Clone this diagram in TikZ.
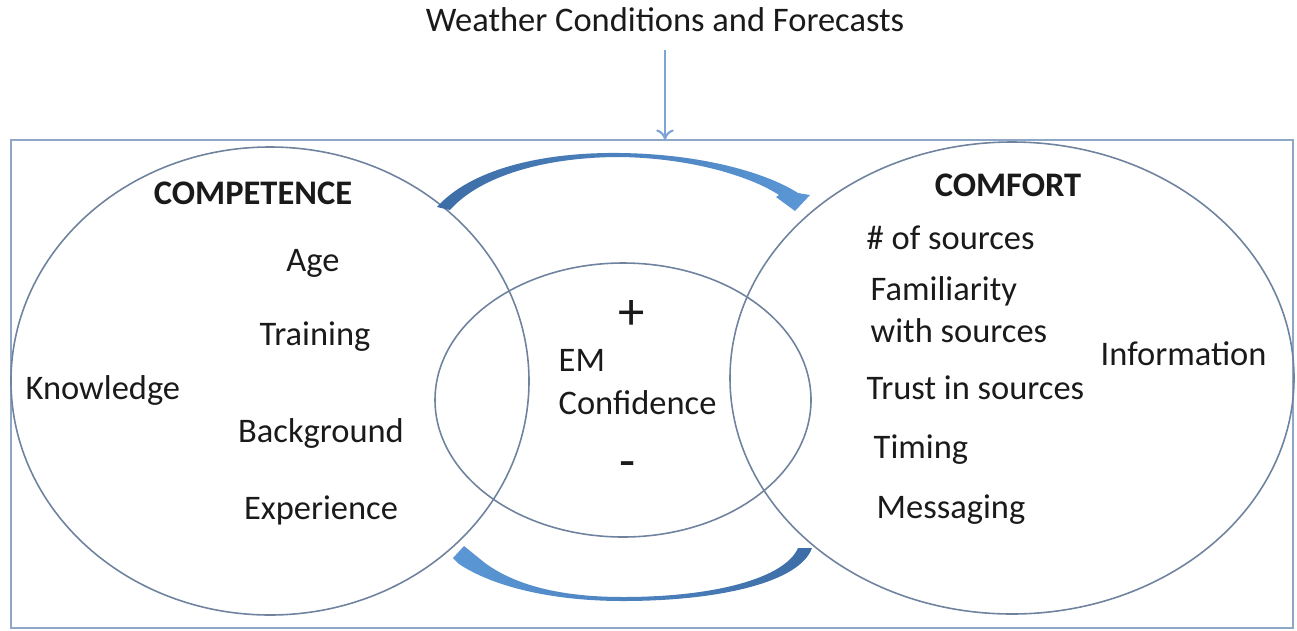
\documentclass[tikz,border=0pt]{standalone}
\usepackage{fontspec}
\setmainfont{Carlito}
\usepackage{tikz}
\usetikzlibrary{arrows.meta}
\tikzset{
  font={\fontsize{9.8pt}{12}\selectfont}}

\definecolor{framecol}{HTML}{8EA7C7}
\definecolor{ringcol}{HTML}{6F829E}
\definecolor{inflow}{HTML}{7CA4D6}
\definecolor{loopdark}{HTML}{3D6DA6}
\definecolor{looplight}{HTML}{5B97D6}
\definecolor{inkcol}{HTML}{1A1A1A}

\begin{document}
\begin{tikzpicture}[x=0.01cm,y=-0.01cm,
  ring/.style={draw=ringcol, line width=0.45pt},
  lbl/.style={inner sep=0pt, text=inkcol},
  lleft/.style={lbl, anchor=west, align=left},
  sign/.style={lbl, font={\fontsize{15pt}{15}\selectfont}},
  head/.style={lbl, font={\fontsize{9.8pt}{12}\selectfont\bfseries}}]
\useasboundingbox (0,0) rectangle (1297,630);
\draw [framecol, line width=0.6pt] (11,140) rectangle (1293,628);
\coordinate (frametop) at (665,140);
\node [lbl] (weather) at (665,20) {Weather Conditions and Forecasts};
\draw [inflow, line width=0.6pt, shorten <=4.8pt, -{To[length=3pt,width=5pt]}] (weather) -- (frametop);
% the three rings
\draw [ring] (270,381) ellipse [x radius=259, y radius=234];
\draw [ring] (1012,378) ellipse [x radius=282, y radius=236];
\draw [ring] (623,400) ellipse [x radius=188, y radius=137];
% competence side
\node [head] (competence) at (253,193) {COMPETENCE};
\node [lbl] (age) at (313,263) {Age};
\node [lbl] (training) at (315,337) {Training};
\node [lleft] (knowledge) at (25,390) {Knowledge};
\node [lbl] (background) at (321,433) {Background};
\node [lbl] (experience) at (321,510) {Experience};
% confidence in the middle
\node [sign] (plus) at (632,315) {+};
\node [lleft] (emconf) at (558,382) {EM\\Confidence};
\node [sign] (minus) at (628,470) {-};
% comfort side
\node [head] (comfort) at (1008,185) {COMFORT};
\node [lleft] (nsources) at (866,238) {\# of sources};
\node [lleft] (familiar) at (870,310) {Familiarity\\with sources};
\node [lleft] (trust) at (866,388) {Trust in sources};
\node [lleft] (timing) at (873,450) {Timing};
\node [lleft] (messaging) at (876,510) {Messaging};
\node [lleft] (information) at (1100,354) {Information};
% feedback arrows
\shade [left color=loopdark, right color=looplight] (437,207) .. controls (470,170) and (540,152) .. (620,153)
  .. controls (700,154) and (765,172) .. (798,193) -- (810,195) -- (795,211) -- (776,197) -- (779,195)
  .. controls (750,176) and (690,158) .. (620,157) .. controls (545,157) and (480,176) .. (450,210) -- cycle;
\shade [left color=looplight, right color=loopdark] (812,548) .. controls (800,582) and (720,601) .. (623,601)
  .. controls (550,601) and (492,586) .. (459,564) -- (453,558) -- (464,546) -- (485,563)
  .. controls (515,585) and (560,597) .. (623,597) .. controls (715,597) and (785,578) .. (798,548) -- cycle;
\end{tikzpicture}
\end{document}
